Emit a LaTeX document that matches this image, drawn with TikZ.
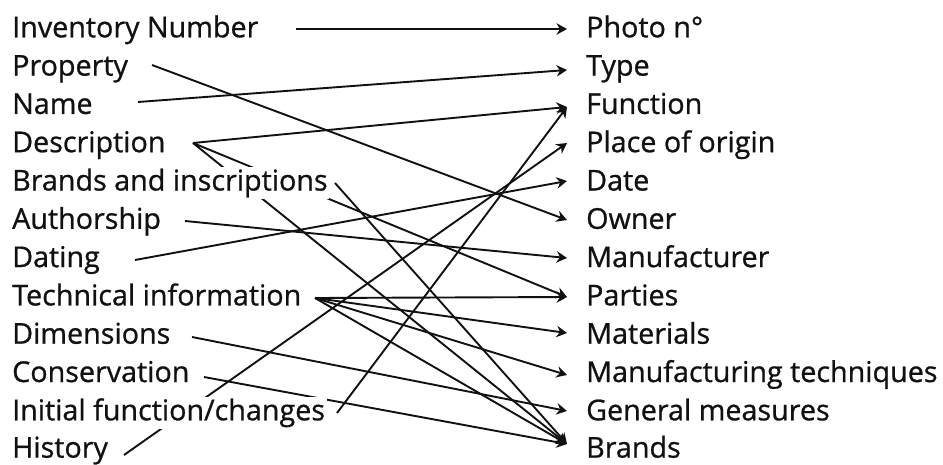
\documentclass[tikz,border=0pt]{standalone}
\usepackage{fontspec}
\setmainfont{Open Sans}[FakeBold=0.8]
\usetikzlibrary{arrows.meta,backgrounds}
\definecolor{ink}{HTML}{111111}
\begin{document}
\begin{tikzpicture}[x=1pt,y=-1pt,
  lab/.style={anchor=base west,inner sep=1.5pt,fill=white,text=ink,
              font=\fontsize{28.7}{28.7}\selectfont},
  link/.style={line width=1.9pt,draw=ink,
               -{Stealth[length=10.5pt,width=11.5pt,inset=3.5pt]}}]
\useasboundingbox (0,0) rectangle (943,464);

% source fields (left column)
\node[lab] (inv)  at (10.5, 37.3)  {Inventory Number};
\node[lab] (prop) at (10.5, 75.6)  {Property};
\node[lab] (name) at (10.5,113.9)  {Name};
\node[lab] (desc) at (10.5,152.2)  {Description};
\node[lab] (bins) at (10.5,190.5)  {Brands and inscriptions};
\node[lab] (auth) at (10.5,228.8)  {Authorship};
\node[lab] (datg) at (10.5,267.1)  {Dating};
\node[lab] (tech) at (10.5,305.4)  {Technical information};
\node[lab] (dims) at (10.5,343.7)  {Dimensions};
\node[lab] (cons) at (10.5,382.0)  {Conservation};
\node[lab] (init) at (10.5,420.3)  {Initial function/changes};
\node[lab] (hist) at (10.5,457.6)  {History};

% target fields (right column)
\node[lab] (photo) at (584.5, 37.3)  {Photo n°};
\node[lab] (type)  at (584.5, 75.6)  {Type};
\node[lab] (func)  at (584.5,113.9)  {Function};
\node[lab] (place) at (584.5,152.2)  {Place of origin};
\node[lab] (date)  at (584.5,190.5)  {Date};
\node[lab] (owner) at (584.5,228.8)  {Owner};
\node[lab] (manu)  at (584.5,267.1)  {Manufacturer};
\node[lab] (part)  at (584.5,305.4)  {Parties};
\node[lab] (mat)   at (584.5,343.7)  {Materials};
\node[lab] (tecq)  at (584.5,382.0)  {Manufacturing techniques};
\node[lab] (meas)  at (584.5,420.3)  {General measures};
\node[lab] (brand) at (584.5,457.6)  {Brands};

% line start points
\coordinate (s-inv)  at (296, 29);
\coordinate (s-prop) at (152, 65);
\coordinate (s-name) at (138,102);
\coordinate (s-desc) at (193,143);
\coordinate (s-bins) at (335,183);
\coordinate (s-auth) at (185,221);
\coordinate (s-datg) at (135,260);
\coordinate (s-tech) at (315,298);
\coordinate (s-dims) at (192,337);
\coordinate (s-cons) at (204,377);
\coordinate (s-init) at (337,413);
\coordinate (s-hist) at (124,455);

% arrow tips
\coordinate (t-photo) at (567, 29);
\coordinate (t-type)  at (567, 70);
\coordinate (t-func)  at (567,107);
\coordinate (t-place) at (567,143);
\coordinate (t-date)  at (567,181);
\coordinate (t-owner) at (567,220);
\coordinate (t-manu)  at (567,258);
\coordinate (t-part)  at (567,297);
\coordinate (t-mat)   at (567,333);
\coordinate (t-tecq)  at (567,375);
\coordinate (t-meas)  at (567,411);
\coordinate (t-brand) at (567,444);

\begin{pgfonlayer}{background}
  \draw[link] (s-inv)  -- (t-photo);
  \draw[link] (s-prop) -- (t-owner);
  \draw[link] (s-name) -- (t-type);
  \draw[link] (s-desc) -- (t-func);
  \draw[link] (s-desc) -- (t-part);
  \draw[link] (s-desc) -- (t-brand);
  \draw[link] (s-bins) -- (t-brand);
  \draw[link] (s-auth) -- (t-manu);
  \draw[link] (s-datg) -- (t-date);
  \draw[link] (s-tech) -- (t-part);
  \draw[link] (s-tech) -- (t-mat);
  \draw[link] (s-tech) -- (t-tecq);
  \draw[link] (s-tech) -- (t-brand);
  \draw[link] (s-dims) -- (t-meas);
  \draw[link] (s-cons) -- (t-brand);
  \draw[link] (s-init) -- (t-func);
  \draw[link] (s-hist) -- (t-place);
\end{pgfonlayer}
\end{tikzpicture}
\end{document}
